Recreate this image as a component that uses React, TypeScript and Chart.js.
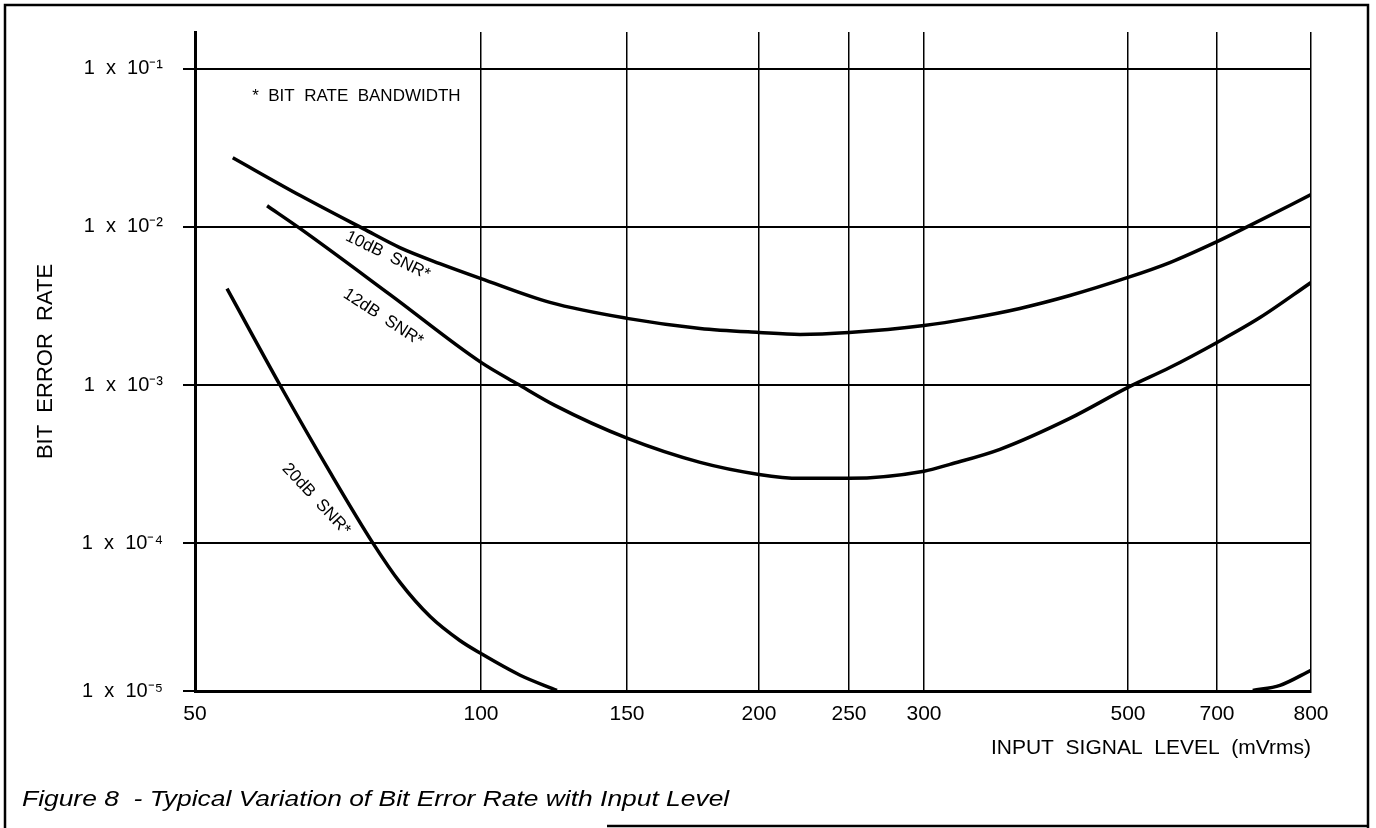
import React, { useEffect, useRef } from "react";
import { Chart, registerables } from "chart.js";

Chart.register(...registerables);

// ---- X axis (hand-drawn, non-uniform scale) ----
const X_TICK_LABELS = [50, 100, 150, 200, 250, 300, 500, 700, 800];
// relative place of each labelled value along the x axis (0 = left end, 1 = right end)
const X_TICK_POSITIONS = [0, 0.2563, 0.3871, 0.5054, 0.586, 0.6532, 0.836, 0.9158, 1];

// ---- Y axis (logarithmic) ----
const Y_MIN = 1.16e-5;
const Y_MAX = 0.171;
const Y_TICK_VALUES = [Y_MIN, 1e-4, 1e-3, 1e-2, 1e-1];
const Y_TICK_LABELS = ["1  x  10⁻⁵", "1  x  10⁻⁴", "1  x  10⁻³", "1  x  10⁻²", "1  x  10⁻¹"];

// ---- Series: input level (mVrms) and bit error rate ----
const SNR10_MV = [56.6, 68.4, 79.4, 85.8, 92.8, 100, 123.6, 150, 177.7, 200, 222.8, 250, 300, 345, 394, 443, 500, 594, 700, 732, 800];
const SNR10_BER = [2.74e-2, 1.58e-2, 9.75e-3, 7.4e-3, 5.86e-3, 4.71e-3, 3.33e-3, 2.64e-3, 2.28e-3, 2.15e-3, 2.09e-3, 2.15e-3, 2.38e-3, 2.64e-3, 3.05e-3, 3.68e-3, 4.79e-3, 5.95e-3, 8.07e-3, 1.0e-2, 1.6e-2];

const SNR12_MV = [62.6, 68.4, 84.1, 100, 112.7, 125.3, 150, 177.7, 200, 222.8, 250, 300, 325.5, 374.5, 443, 500, 594, 700, 745.7, 800];
const SNR12_BER = [1.36e-2, 9.75e-3, 3.73e-3, 1.39e-3, 1.01e-3, 7.43e-4, 4.61e-4, 3.24e-4, 2.72e-4, 2.57e-4, 2.57e-4, 2.85e-4, 3.15e-4, 3.92e-4, 6.15e-4, 9.66e-4, 1.29e-3, 1.86e-3, 2.67e-3, 4.45e-3];

const SNR20_MV = [55.6, 64.9, 73.6, 81.1, 85.8, 91.1, 96.3, 100, 113.4, 126, 400, 738, 767, 800];
const SNR20_BER = [4.07e-3, 9.93e-4, 2.81e-4, 1.0e-4, 5.66e-5, 3.43e-5, 2.42e-5, 2.0e-5, 1.46e-5, 1.17e-5, null, 1.17e-5, 1.26e-5, 1.57e-5];

const SERIES_NAMES = ["10dB SNR*", "12dB SNR*", "20dB SNR*"];

// curve labels, anchored in data space (mV, BER) with text angle in degrees
const CURVE_LABELS = [
  { text: "10dB  SNR*", mv: 83.7, ber: 6.59e-3, angle: 26 },
  { text: "12dB  SNR*", mv: 82.9, ber: 2.67e-3, angle: 33 },
  { text: "20dB  SNR*", mv: 71.2, ber: 1.89e-4, angle: 47 },
];
const NOTE = { text: "*  BIT  RATE  BANDWIDTH", mv: 60, ber: 6.75e-2 };
const CAPTION = "Figure 8  - Typical Variation of Bit Error Rate with Input Level";
const X_TITLE = "INPUT  SIGNAL  LEVEL  (mVrms)";
const Y_TITLE = "BIT  ERROR  RATE";

const FONT = "'Liberation Sans', Arial, Helvetica, sans-serif";

function mvToPos(mv: number): number {
  const n = X_TICK_LABELS.length;
  for (let i = 0; i < n - 1; i++) {
    const a = X_TICK_LABELS[i];
    const b = X_TICK_LABELS[i + 1];
    if (mv <= b || i === n - 2) {
      const t = (mv - a) / (b - a);
      return X_TICK_POSITIONS[i] + t * (X_TICK_POSITIONS[i + 1] - X_TICK_POSITIONS[i]);
    }
  }
  return 0;
}

function toPoints(mv: number[], ber: (number | null)[]) {
  return mv.map((m, i) => ({ x: mvToPos(m), y: ber[i] }));
}

const annotationPlugin = {
  id: "figureAnnotations",
  afterDraw(chart: any) {
    const { ctx, scales } = chart;
    const xs = scales.x;
    const ys = scales.y;
    const W = chart.width;
    const H = chart.height;
    ctx.save();
    // figure frame
    ctx.strokeStyle = "#000";
    ctx.lineWidth = 2.5;
    ctx.beginPath();
    ctx.moveTo(5, H);
    ctx.lineTo(5, 5);
    ctx.lineTo(W - 8, 5);
    ctx.lineTo(W - 8, H);
    ctx.stroke();
    ctx.beginPath();
    ctx.moveTo(607, H - 2);
    ctx.lineTo(W - 8, H - 2);
    ctx.stroke();

    ctx.fillStyle = "#000";
    // note
    ctx.font = `17px ${FONT}`;
    ctx.textAlign = "left";
    ctx.textBaseline = "middle";
    ctx.fillText(NOTE.text, xs.getPixelForValue(mvToPos(NOTE.mv)), ys.getPixelForValue(NOTE.ber));

    // curve labels
    ctx.font = `17px ${FONT}`;
    ctx.textAlign = "center";
    for (const l of CURVE_LABELS) {
      const px = xs.getPixelForValue(mvToPos(l.mv));
      const py = ys.getPixelForValue(l.ber);
      ctx.save();
      ctx.translate(px, py);
      ctx.rotate((l.angle * Math.PI) / 180);
      ctx.fillText(l.text, 0, 0);
      ctx.restore();
    }

    // caption (slightly widened lettering like the scanned original)
    ctx.font = `italic 22px ${FONT}`;
    ctx.textAlign = "left";
    ctx.save();
    ctx.translate(22, 800);
    ctx.scale(1.2, 1);
    ctx.fillText(CAPTION, 0, 0);
    ctx.restore();
    ctx.restore();
  },
};

export default function App() {
  const ref = useRef<HTMLCanvasElement | null>(null);

  useEffect(() => {
    if (!ref.current) return;
    Chart.defaults.font.family = FONT;
    Chart.defaults.color = "#000";
    const lineStyle = {
      borderColor: "#000",
      backgroundColor: "#000",
      borderWidth: 3.5,
      pointRadius: 0,
      cubicInterpolationMode: "monotone" as const,
      spanGaps: false,
      fill: false,
    };
    const chart = new Chart(ref.current, {
      type: "line",
      data: {
        datasets: [
          { label: SERIES_NAMES[0], data: toPoints(SNR10_MV, SNR10_BER), ...lineStyle },
          { label: SERIES_NAMES[1], data: toPoints(SNR12_MV, SNR12_BER), ...lineStyle },
          { label: SERIES_NAMES[2], data: toPoints(SNR20_MV, SNR20_BER), ...lineStyle },
        ],
      },
      options: {
        responsive: false,
        animation: false,
        devicePixelRatio: 1,
        layout: { padding: { top: 31, right: 65, bottom: 0, left: 0 } },
        plugins: { legend: { display: false }, tooltip: { enabled: false } },
        scales: {
          x: {
            type: "linear",
            min: 0,
            max: 1,
            afterFit(scale: any) {
              scale.height = 137;
            },
            afterBuildTicks(scale: any) {
              scale.ticks = X_TICK_POSITIONS.map((p) => ({ value: p }));
            },
            ticks: {
              autoSkip: false,
              maxRotation: 0,
              padding: 11,
              font: { size: 21 },
              color: "#000",
              callback: (_v: any, i: number) => String(X_TICK_LABELS[i]),
            },
            grid: { color: "#000", lineWidth: 1.5, drawTicks: false },
            border: { color: "#000", width: 3 },
            title: {
              display: true,
              text: X_TITLE,
              align: "end",
              color: "#000",
              font: { size: 21 },
              padding: { top: 0, bottom: 67 },
            },
          },
          y: {
            type: "logarithmic",
            min: Y_MIN,
            max: Y_MAX,
            afterFit(scale: any) {
              scale.width = 195;
            },
            afterBuildTicks(scale: any) {
              scale.ticks = Y_TICK_VALUES.map((v) => ({ value: v }));
            },
            ticks: {
              autoSkip: false,
              padding: 20,
              font: { size: 20 },
              color: "#000",
              callback: (_v: any, i: number) => Y_TICK_LABELS[i],
            },
            grid: { color: "#000", lineWidth: 2, drawTicks: true, tickLength: 12 },
            border: { color: "#000", width: 3 },
            title: {
              display: true,
              text: Y_TITLE,
              color: "#000",
              font: { size: 22 },
              padding: { top: 33, bottom: 0 },
            },
          },
        },
      },
      plugins: [annotationPlugin],
    });
    return () => chart.destroy();
  }, []);

  return (
    <div style={{ position: "absolute", left: 0, top: 0, width: 1376, height: 828, background: "#fff" }}>
      <canvas ref={ref} width={1376} height={828} style={{ display: "block" }} />
    </div>
  );
}
